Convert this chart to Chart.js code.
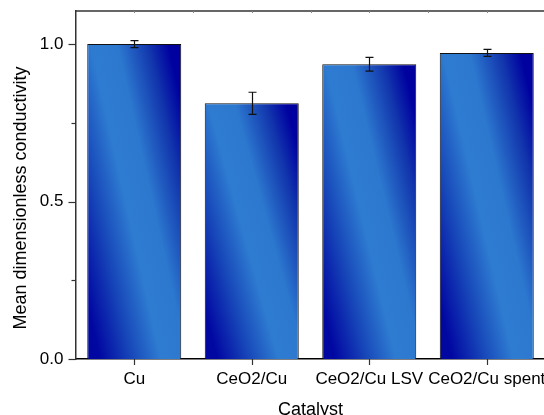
<!DOCTYPE html>
<html>
<head>
<meta charset="utf-8">
<script src="https://cdn.jsdelivr.net/npm/chart.js@4.4.1/dist/chart.umd.min.js"></script>
<style>
  html, body { margin: 0; padding: 0; background: #fff; overflow: hidden; }
  #wrap { width: 544px; height: 415px; overflow: hidden; position: relative; }
  #chart { position: absolute; left: 0; top: 0; }
</style>
</head>
<body>
<div id="wrap"><canvas id="chart" width="552" height="424"></canvas></div>
<script>
// данные с картинки
const categories = ["Cu", "CeO2/Cu", "CeO2/Cu LSV", "CeO2/Cu spent"];
const meanValues = [1.0, 0.812, 0.936, 0.972];
const errorValues = [0.011, 0.035, 0.022, 0.011];
const majorTicks = [0, 0.5, 1.0];
const minorTicks = [0.25, 0.75];
const yTitle = "Mean dimensionless conductivity";

const FONT = "'Liberation Sans', Arial, sans-serif";

// диагональный градиент внутри каждого столбика (g = u - 0.75*v)
function barGradient(context) {
  const chart = context.chart;
  const area = chart.chartArea;
  if (!area || !chart.scales.x || !chart.scales.y) return "#1a4fc0";
  const i = context.dataIndex;
  const xs = chart.scales.x, ys = chart.scales.y;
  const w = (area.right - area.left) / categories.length * 0.8;
  const xl = xs.getPixelForValue(i) - w / 2;
  const yt = ys.getPixelForValue(meanValues[i]);
  const yb = ys.getPixelForValue(0);
  const h = Math.max(yb - yt, 1);
  const s = 0.75;
  const k = 1.75 / (1 / (w * w) + (s * s) / (h * h));
  const g = chart.ctx.createLinearGradient(xl, yb, xl + k / w, yb - s * k / h);
  g.addColorStop(0, "#0006a0");
  g.addColorStop(0.08, "#0108a2");
  g.addColorStop(0.27, "#1747b9");
  g.addColorStop(0.45, "#2e7cd1");
  g.addColorStop(0.61, "#2c78cf");
  g.addColorStop(0.8, "#1236ad");
  g.addColorStop(0.92, "#0002a0");
  g.addColorStop(1, "#00009c");
  return g;
}

// рамка сверху, засечки, подпись оси Y
const framePlugin = {
  id: "frame",
  afterDraw(chart) {
    const ctx = chart.ctx;
    const a = chart.chartArea;
    const xs = chart.scales.x, ys = chart.scales.y;
    ctx.save();
    ctx.strokeStyle = "#333";
    ctx.lineWidth = 1.3;
    ctx.beginPath();
    ctx.moveTo(a.left, a.top);
    ctx.lineTo(a.right + 4, a.top);
    ctx.stroke();
    // засечки оси Y
    ctx.lineWidth = 1.2;
    majorTicks.forEach(v => {
      const y = Math.round(ys.getPixelForValue(v)) + 0.5;
      ctx.beginPath(); ctx.moveTo(a.left - 7, y); ctx.lineTo(a.left, y); ctx.stroke();
    });
    minorTicks.forEach(v => {
      const y = Math.round(ys.getPixelForValue(v)) + 0.5;
      ctx.beginPath(); ctx.moveTo(a.left - 4, y); ctx.lineTo(a.left, y); ctx.stroke();
    });
    // засечки оси X
    categories.forEach((c, i) => {
      const x = Math.round(xs.getPixelForValue(i)) + 0.5;
      ctx.beginPath(); ctx.moveTo(x, a.bottom); ctx.lineTo(x, a.bottom + 6); ctx.stroke();
    });
    // мелкие засечки сверху
    ctx.lineWidth = 1;
    ctx.strokeStyle = "#888";
    for (let i = 0; i < categories.length; i++) {
      [i - 0.5, i].forEach(p => {
        const x = Math.round(xs.getPixelForValue(p)) + 0.5;
        if (x > a.left + 2) {
          ctx.beginPath(); ctx.moveTo(x, a.top); ctx.lineTo(x, a.top + 2); ctx.stroke();
        }
      });
    }
    // подпись оси Y
    ctx.fillStyle = "#000";
    ctx.font = "18px " + FONT;
    ctx.textAlign = "center";
    ctx.textBaseline = "middle";
    ctx.translate(21, (a.top + a.bottom) / 2 + 13);
    ctx.rotate(-Math.PI / 2);
    ctx.fillText(yTitle, 0, 0);
    ctx.restore();
  }
};

// планки погрешностей
const errorBarPlugin = {
  id: "errorBars",
  afterDatasetsDraw(chart) {
    const ctx = chart.ctx;
    const xs = chart.scales.x, ys = chart.scales.y;
    ctx.save();
    ctx.strokeStyle = "#111";
    ctx.lineWidth = 1.2;
    meanValues.forEach((v, i) => {
      const x = Math.round(xs.getPixelForValue(i)) + 0.5;
      const yHi = ys.getPixelForValue(v + errorValues[i]);
      const yLo = ys.getPixelForValue(v - errorValues[i]);
      ctx.beginPath();
      ctx.moveTo(x, yHi); ctx.lineTo(x, yLo);
      ctx.moveTo(x - 4, yHi); ctx.lineTo(x + 4, yHi);
      ctx.moveTo(x - 4, yLo); ctx.lineTo(x + 4, yLo);
      ctx.stroke();
    });
    ctx.restore();
  }
};

const ctx = document.getElementById("chart").getContext("2d");
new Chart(ctx, {
  type: "bar",
  data: {
    labels: categories,
    datasets: [
      {
        data: meanValues,
        backgroundColor: barGradient,
        borderColor: "#111",
        borderWidth: 1,
        barPercentage: 0.8,
        categoryPercentage: 1.0,
      },
    ],
  },
  options: {
    responsive: false,
    animation: false,
    layout: { padding: { left: 0, right: 6.5, top: 11, bottom: 0 } },
    plugins: { legend: { display: false }, tooltip: { enabled: false } },
    scales: {
      x: {
        offset: true,
        grid: { display: false, drawTicks: false },
        border: { display: true, color: "#000", width: 1.5 },
        ticks: { color: "#000", padding: 10, maxRotation: 0, autoSkip: false, font: { family: FONT, size: 17 } },
        title: { display: true, text: "Catalyst", color: "#000", padding: { top: 4, bottom: 3 }, font: { family: FONT, size: 18 } },
        afterFit(scale) {
          scale.height = 424 - 359;
          scale.paddingLeft = 0;
          scale.paddingRight = 0;
        },
      },
      y: {
        min: 0,
        max: 1.105,
        grid: { display: false, drawTicks: false },
        border: { display: true, color: "#333", width: 1.5 },
        ticks: {
          stepSize: 0.5,
          includeBounds: false,
          padding: 12,
          color: "#000",
          font: { family: FONT, size: 17 },
          callback: v => v.toFixed(1),
        },
        afterFit(scale) {
          scale.width = 75.5;
          scale.paddingTop = 0;
          scale.paddingBottom = 0;
        },
      },
    },
  },
  plugins: [errorBarPlugin, framePlugin],
});
</script>
</body>
</html>
